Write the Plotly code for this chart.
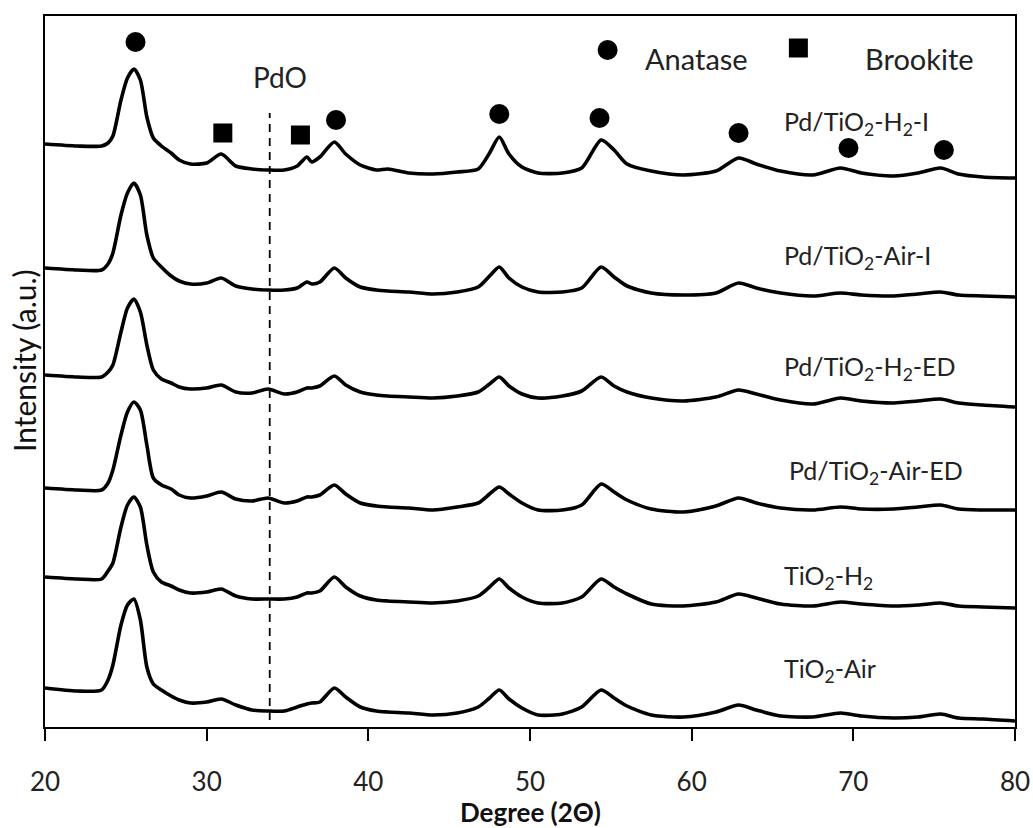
import plotly.graph_objects as go

# 2-theta sampling positions (degrees)
two_theta = [20.0, 22.0, 23.5, 23.9, 24.2, 24.7, 25.1, 25.5, 25.9, 26.3, 26.7, 27.2, 27.8, 28.3, 29.0,
             30.0, 30.9, 31.8, 32.8, 33.8, 34.8, 35.6, 36.2, 36.5, 37.0, 37.9, 38.6, 39.5, 40.5,
             41.2, 42.5, 44.0, 45.5, 46.8, 47.5, 48.1, 48.7, 49.5, 50.5, 52.0, 53.2, 54.4, 55.2,
             56.0, 57.5, 59.5, 61.5, 62.9, 64.0, 65.5, 67.5, 69.2, 70.5, 72.5, 74.0, 75.4, 76.5,
             78.0, 80.0]

# stacked intensities (a.u.), top pattern first
pd_tio2_h2_i = [583, 581, 581, 584, 591, 627, 649, 658, 647, 610, 589, 581, 574, 567, 563, 564, 573, 561,
                558, 557, 557, 561, 570, 565, 570, 585, 573, 562, 557, 558, 554, 553, 555, 558, 574,
                590, 573, 560, 554, 554, 559, 587, 577, 563, 556, 552, 556, 569, 563, 556, 552, 559,
                554, 551, 554, 559, 553, 550, 549]
pd_tio2_air_i = [459, 457, 457, 463, 474, 512, 534, 544, 532, 492, 469, 460, 451, 446, 443, 444, 449, 441,
                 438, 437, 437, 439, 445, 443, 445, 459, 449, 440, 437, 436, 435, 433, 435, 440, 451,
                 460, 449, 440, 435, 435, 439, 460, 450, 441, 434, 432, 434, 444, 439, 434, 431, 434,
                 432, 431, 433, 435, 432, 431, 430]
pd_tio2_h2_ed = [352, 350, 350, 355, 362, 395, 419, 428, 415, 382, 357, 348, 344, 340, 338, 339, 342, 335,
                 334, 338, 333, 335, 339, 339, 341, 351, 342, 335, 332, 331, 330, 329, 331, 335, 343,
                 350, 341, 333, 329, 331, 336, 350, 341, 335, 329, 326, 330, 337, 333, 327, 323, 329,
                 326, 324, 326, 328, 324, 322, 320]
pd_tio2_air_ed = [239, 237, 237, 244, 257, 292, 315, 325, 317, 282, 249, 242, 238, 232, 229, 231, 235, 228,
                  226, 229, 224, 226, 230, 230, 232, 242, 233, 224, 221, 220, 219, 217, 220, 224, 233,
                  240, 233, 224, 217, 217, 222, 243, 235, 227, 218, 215, 221, 229, 224, 219, 217, 220,
                  218, 218, 220, 222, 218, 217, 217]
tio2_h2 = [150, 148, 148, 156, 164, 200, 222, 230, 220, 182, 155, 145, 141, 137, 134, 135, 138, 131,
           128, 128, 128, 130, 134, 134, 136, 150, 140, 131, 127, 126, 125, 124, 126, 131, 140,
           148, 139, 130, 124, 124, 130, 148, 140, 133, 123, 121, 125, 133, 129, 123, 121, 125,
           123, 121, 122, 124, 121, 120, 119]
tio2_air = [39, 36, 37, 47, 62, 102, 122, 128, 107, 60, 43, 37, 31, 27, 24, 25, 28, 22,
            17, 16, 16, 20, 23, 24, 25, 39, 30, 20, 16, 15, 14, 12, 14, 20, 29,
            37, 28, 19, 12, 13, 20, 37, 29, 21, 12, 10, 15, 22, 17, 11, 10, 14,
            11, 9, 10, 13, 9, 8, 6]

series = [pd_tio2_h2_i, pd_tio2_air_i, pd_tio2_h2_ed, pd_tio2_air_ed, tio2_h2, tio2_air]
series_labels = ["Pd/TiO<sub>2</sub>-H<sub>2</sub>-I", "Pd/TiO<sub>2</sub>-Air-I",
                 "Pd/TiO<sub>2</sub>-H<sub>2</sub>-ED", "Pd/TiO<sub>2</sub>-Air-ED",
                 "TiO<sub>2</sub>-H<sub>2</sub>", "TiO<sub>2</sub>-Air"]
label_x = [65.6, 65.6, 65.6, 65.9, 65.6, 65.6]
label_y = [604, 470, 359, 255, 150, 57]

# phase markers
anatase_x = [25.6, 38.0, 48.1, 54.3, 62.9, 69.7, 75.6]
anatase_y = [685, 607, 613, 609, 594, 579, 577]
brookite_x = [31.0, 35.8]
brookite_y = [594, 592]
legend_marker_x = [54.8, 66.6]
legend_marker_y = [677, 679]
legend_text = ["Anatase", "Brookite"]
legend_text_x = [60.3, 74.1]
legend_text_y = [669, 669]

pdo_x = 33.9
pdo_line_y = [7, 614]

x_ticks = [20, 30, 40, 50, 60, 70, 80]

fig = go.Figure()
for vals in series:
    fig.add_trace(go.Scatter(x=two_theta, y=vals, mode="lines",
                             line=dict(color="black", width=3.6, shape="spline", smoothing=0.7),
                             showlegend=False, hoverinfo="skip"))

fig.add_trace(go.Scatter(x=[pdo_x, pdo_x], y=pdo_line_y, mode="lines",
                         line=dict(color="black", width=1.8, dash="8px,6px"),
                         showlegend=False, hoverinfo="skip"))

fig.add_trace(go.Scatter(x=anatase_x + [legend_marker_x[0]], y=anatase_y + [legend_marker_y[0]],
                         mode="markers", marker=dict(symbol="circle", size=20, color="black"),
                         showlegend=False, hoverinfo="skip"))
fig.add_trace(go.Scatter(x=brookite_x + [legend_marker_x[1]], y=brookite_y + [legend_marker_y[1]],
                         mode="markers", marker=dict(symbol="square", size=19, color="black"),
                         showlegend=False, hoverinfo="skip"))

font_main = "Lato, 'Open Sans', sans-serif"
annotations = []
for lab, lx, ly in zip(series_labels, label_x, label_y):
    annotations.append(dict(x=lx, y=ly, xref="x", yref="y", text=lab, showarrow=False,
                            xanchor="left", yanchor="middle",
                            font=dict(family=font_main, size=25, color="#222")))
for t, tx, ty in zip(legend_text, legend_text_x, legend_text_y):
    annotations.append(dict(x=tx, y=ty, xref="x", yref="y", text=t, showarrow=False,
                            xanchor="center", yanchor="middle",
                            font=dict(family=font_main, size=29, color="#222")))
annotations.append(dict(x=34.55, y=650, xref="x", yref="y", text="PdO", showarrow=False,
                        xanchor="center", yanchor="middle",
                        font=dict(family=font_main, size=28, color="#222")))
annotations.append(dict(x=-0.0215, y=0.515, xref="paper", yref="paper", text="Intensity (a.u.)",
                        showarrow=False, textangle=-90, xanchor="center", yanchor="middle",
                        font=dict(family=font_main, size=30, color="#111")))
annotations.append(dict(x=0.5, y=-0.119, xref="paper", yref="paper", text="<b>Degree (2Θ)</b>",
                        showarrow=False, xanchor="center", yanchor="middle",
                        font=dict(family=font_main, size=26, color="#111")))

fig.update_layout(
    width=1033, height=828,
    margin=dict(l=45, r=18, t=16, b=101, autoexpand=False),
    paper_bgcolor="white", plot_bgcolor="white",
    annotations=annotations,
    xaxis=dict(range=[20, 80], tickvals=x_ticks, ticks="outside", ticklen=12, tickwidth=2,
               tickcolor="black", showline=True, linecolor="black", linewidth=2, mirror=True,
               showgrid=False, zeroline=False, ticklabelstandoff=19, automargin=False,
               tickfont=dict(family=font_main, size=26, color="#222")),
    yaxis=dict(range=[0, 711], showticklabels=False, ticks="", showline=True, automargin=False,
               linecolor="black", linewidth=2, mirror=True, showgrid=False, zeroline=False),
)

fig.write_html("out.html")
